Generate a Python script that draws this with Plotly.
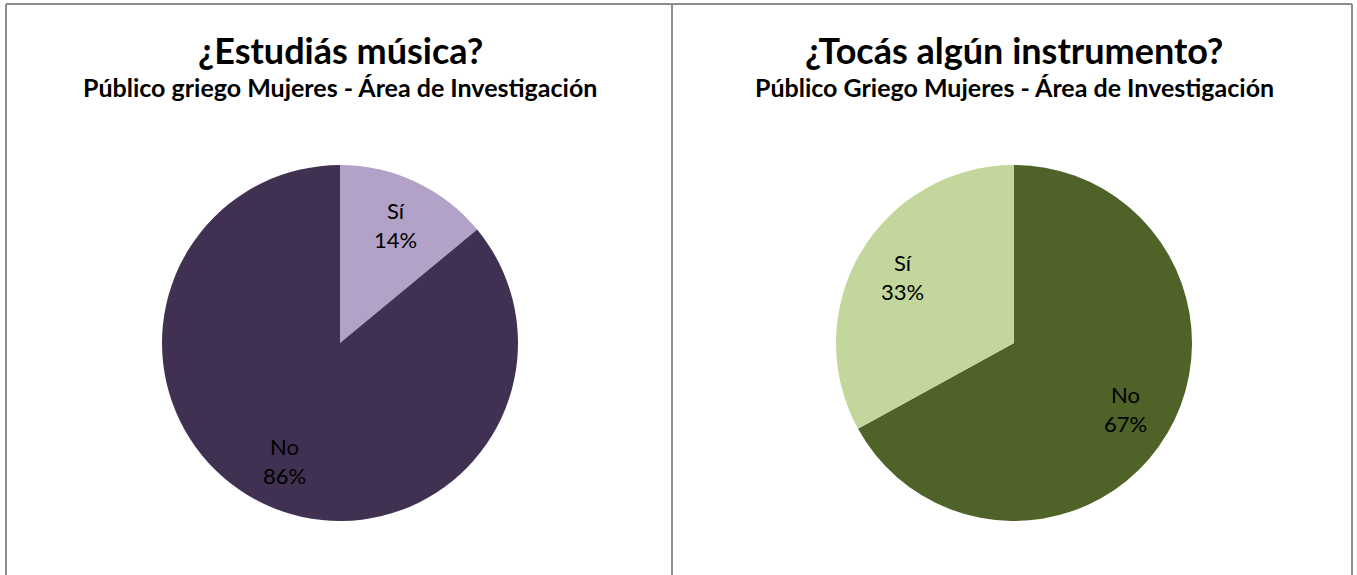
import math
import plotly.graph_objects as go

W, H = 1357, 575

# Data
labels_left = ["Sí", "No"]
values_left = [14, 86]
colors_left = ["#B2A2C7", "#403152"]
title_left = "¿Estudiás música?"
subtitle_left = "Público griego Mujeres - Área de Investigación"

labels_right = ["No", "Sí"]
values_right = [67, 33]
colors_right = ["#4F6228", "#C3D69B"]
title_right = "¿Tocás algún instrumento?"
subtitle_right = "Público Griego Mujeres - Área de Investigación"

FONT = "Lato, 'Open Sans', sans-serif"

def px(x):
    return x / W

def py(y):
    return 1 - y / H

fig = go.Figure()

R_PX = 178
pies = [
    (labels_left, values_left, colors_left, 340),
    (labels_right, values_right, colors_right, 1014),
]
CY = 343
annotations = []
for labels, values, colors, cx in pies:
    fig.add_trace(go.Pie(
        labels=labels, values=values, sort=False, direction="clockwise", rotation=0,
        marker=dict(colors=colors, line=dict(width=0)),
        textinfo="none",
        domain=dict(x=[px(cx - R_PX), px(cx + R_PX)], y=[py(CY + R_PX), py(CY - R_PX)]),
        showlegend=False, hoverinfo="label+percent",
    ))
    total = sum(values)
    cum = 0
    for lab, v in zip(labels, values):
        mid = (cum + v / 2) / total * 2 * math.pi
        cum += v
        r = 0.73 * R_PX
        lx = cx + r * math.sin(mid)
        ly = CY - r * math.cos(mid)
        annotations.append(dict(
            x=px(lx), y=py(ly), xref="paper", yref="paper",
            text="%s<br>%d%%" % (lab, round(100 * v / total)),
            showarrow=False, xanchor="center", yanchor="middle",
            font=dict(family=FONT, size=22, color="#000000"),
        ))

for cx, t, s in [(340, title_left, subtitle_left), (1014, title_right, subtitle_right)]:
    annotations.append(dict(x=px(cx), y=py(50), xref="paper", yref="paper", text="<b>%s</b>" % t,
                            showarrow=False, xanchor="center", yanchor="middle",
                            font=dict(family=FONT, size=36, color="#000000")))
    annotations.append(dict(x=px(cx), y=py(87), xref="paper", yref="paper", text="<b>%s</b>" % s,
                            showarrow=False, xanchor="center", yanchor="middle",
                            font=dict(family=FONT, size=25, color="#000000")))

line = dict(color="#8C8C8C", width=2)
shapes = [
    dict(type="line", xref="paper", yref="paper", x0=px(6), x1=px(1352), y0=py(4), y1=py(4), line=line),
    dict(type="line", xref="paper", yref="paper", x0=px(6), x1=px(6), y0=py(4), y1=0, line=line),
    dict(type="line", xref="paper", yref="paper", x0=px(672), x1=px(672), y0=py(4), y1=0, line=line),
    dict(type="line", xref="paper", yref="paper", x0=px(1352), x1=px(1352), y0=py(4), y1=0, line=line),
]

fig.update_layout(
    width=W, height=H, margin=dict(l=0, r=0, t=0, b=0),
    paper_bgcolor="#FFFFFF", plot_bgcolor="#FFFFFF",
    annotations=annotations, shapes=shapes,
)

fig.write_html("out.html", config={"displayModeBar": False},
               post_script="document.body.style.margin='0';document.body.style.overflow='hidden';")
